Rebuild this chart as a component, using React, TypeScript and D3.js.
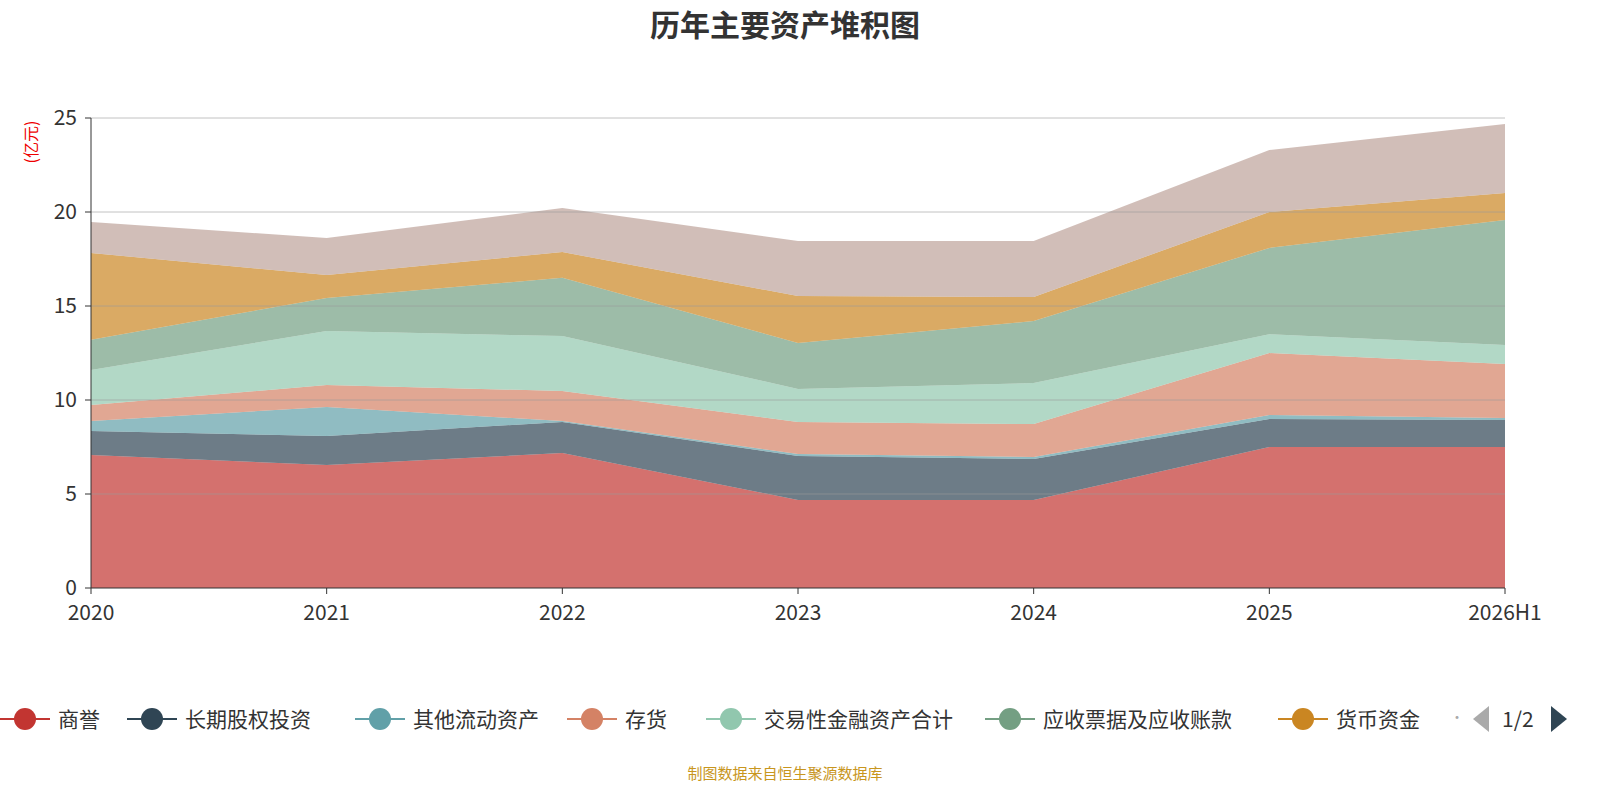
import * as d3 from "d3"

const years = ["2020", "2021", "2022", "2023", "2024", "2025", "2026H1"]
const seriesNames = ["商誉", "长期股权投资", "其他流动资产", "存货", "交易性金融资产合计", "应收票据及应收账款", "货币资金", "固定资产"]
const goodwill = [7.07, 6.54, 7.18, 4.68, 4.68, 7.5, 7.5]
const longEquity = [1.28, 1.55, 1.65, 2.34, 2.18, 1.49, 1.44]
const otherCurrent = [0.53, 1.54, 0.05, 0.11, 0.11, 0.21, 0.1]
const inventory = [0.85, 1.17, 1.6, 1.7, 1.75, 3.3, 2.87]
const tradingAssets = [1.87, 2.87, 2.92, 1.76, 2.18, 1.0, 1.02]
const receivables = [1.6, 1.76, 3.1, 2.44, 3.3, 4.59, 6.64]
const cash = [4.62, 1.22, 1.37, 2.5, 1.28, 1.91, 1.44]
const fixedAssets = [1.65, 1.97, 2.34, 2.93, 2.98, 3.3, 3.67]
const yTicks = [0, 5, 10, 15, 20, 25]
const colors = ["#c23531", "#2f4554", "#61a0a8", "#d48265", "#91c7ae", "#749f83", "#ca8622", "#bda29a"]

const allSeries = [goodwill, longEquity, otherCurrent, inventory, tradingAssets, receivables, cash, fixedAssets]
const legendX = [25, 152, 380, 592, 731, 1010, 1303]

export default function App() {
  const W = 1600, H = 800
  const left = 91, right = 1505, top = 118, bottom = 588
  const x = d3.scalePoint<string>().domain(years).range([left, right])
  const y = d3.scaleLinear().domain([0, 25]).range([bottom, top])
  const rows = years.map((yr, i) => {
    const r: any = { year: yr }
    seriesNames.forEach((n, k) => (r[n] = allSeries[k][i]))
    return r
  })
  const stacked = d3.stack<any>().keys(seriesNames)(rows)
  const area = d3.area<any>().x((d) => x(d.data.year)!).y0((d) => y(d[0])).y1((d) => y(d[1]))
  const font = "'Noto Sans CJK SC', 'Noto Sans', sans-serif"

  return (
    <svg width={W} height={H} style={{ position: "absolute", left: 0, top: 0, fontFamily: font }}>
      <rect width={W} height={H} fill="#fff" />
      <text x={785} y={36} textAnchor="middle" fontSize={30} fontWeight="bold" fill="#333">历年主要资产堆积图</text>
      <text transform="translate(37,142) rotate(-90)" textAnchor="middle" fontSize={16} fill="#e00">(亿元)</text>
      {stacked.map((s, k) => (
        <path key={k} d={area(s)!} fill={colors[k]} fillOpacity={0.7} stroke="none" />
      ))}
      {yTicks.map((t) => (
        <g key={t}>
          {t > 0 && <line x1={left} x2={right} y1={y(t)} y2={y(t)} stroke="#999" strokeOpacity={0.6} />}
          <line x1={left - 6} x2={left} y1={y(t)} y2={y(t)} stroke="#333" />
          <text x={left - 14} y={y(t) + 7} textAnchor="end" fontSize={21} fill="#333">{t}</text>
        </g>
      ))}
      <line x1={left} x2={left} y1={top} y2={bottom} stroke="#333" />
      <line x1={left} x2={right} y1={bottom} y2={bottom} stroke="#333" />
      {years.map((yr) => (
        <g key={yr}>
          <line x1={x(yr)} x2={x(yr)} y1={bottom} y2={bottom + 6} stroke="#333" />
          <text x={x(yr)} y={bottom + 32} textAnchor="middle" fontSize={21} fill="#333">{yr}</text>
        </g>
      ))}
      {legendX.map((lx, k) => (
        <g key={k}>
          <line x1={lx - 25} x2={lx + 25} y1={719} y2={719} stroke={colors[k]} strokeWidth={2} />
          <circle cx={lx} cy={719} r={11} fill={colors[k]} />
          <text x={lx + 33} y={727} fontSize={21} fill="#333">{seriesNames[k]}</text>
        </g>
      ))}
      <text x={1450} y={722} fontSize={14} fill="#aaa">·</text>
      <path d="M1489,706 L1489,732 L1473,719 Z" fill="#aaa" />
      <text x={1502} y={727} fontSize={21} fill="#333">1/2</text>
      <path d="M1551,706 L1551,732 L1567,719 Z" fill="#2f4554" />
      <text x={785} y={779} textAnchor="middle" fontSize={15} fill="#c8961e">制图数据来自恒生聚源数据库</text>
    </svg>
  )
}
